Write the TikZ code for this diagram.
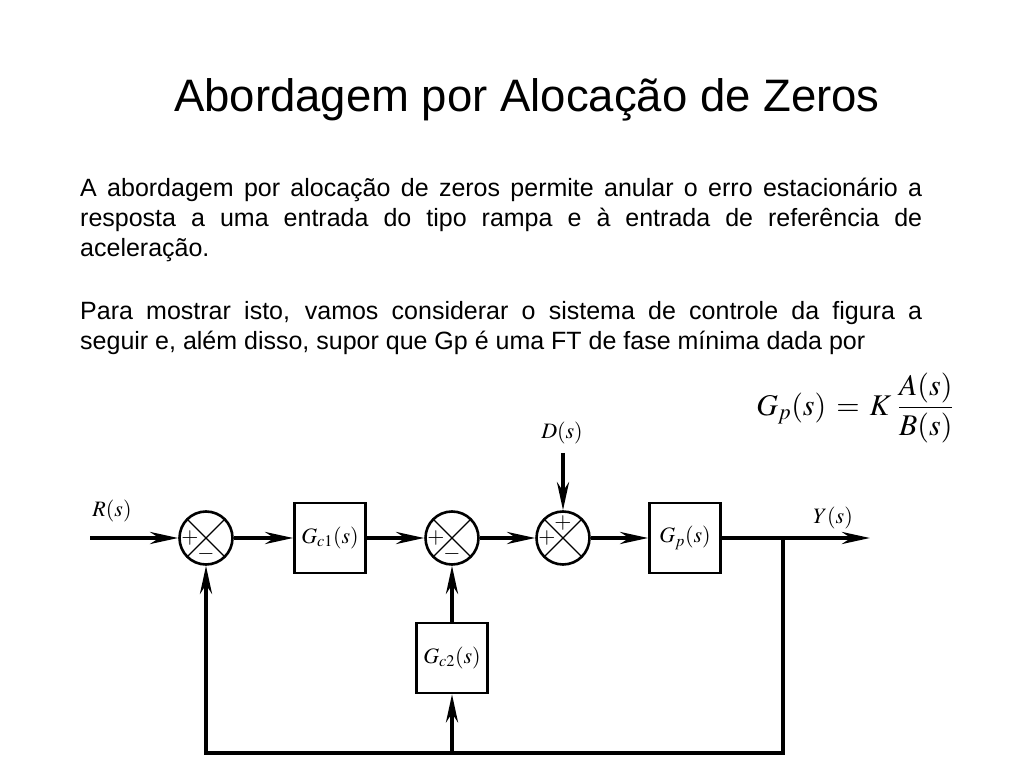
\documentclass[tikz,border=0pt]{standalone}
\usepackage{mathptmx}
\usepackage[no-math]{fontspec}
\setmainfont{Liberation Sans}
\usepackage{tikz}
\usetikzlibrary{positioning,arrows.meta}
\newcommand{\gcone}{G_{c1}(s)}
\newcommand{\gctwo}{G_{c2}(s)}
\newcommand{\gplant}{G_{p}(s)}
\tikzset{sumnode/.style={shape=circle, draw=black, line width=2.6pt, minimum size=53pt, inner sep=0pt, path picture={\draw[line width=1.3pt] (path picture bounding box.north west) -- (path picture bounding box.south east) (path picture bounding box.north east) -- (path picture bounding box.south west);}}}
\tikzset{blocknode/.style={shape=rectangle, draw=black, line width=2.6pt, minimum width=71pt, minimum height=70pt, inner sep=0pt, font=\fontsize{22}{26}\selectfont}}
\tikzset{signnode/.style={inner sep=0pt, font=\fontsize{22}{22}\selectfont}}
\tikzset{labnode/.style={inner sep=0pt, font=\fontsize{22}{26}\selectfont}}
\tikzset{sigline/.style={line width=4pt, -{Stealth[length=28pt,width=12pt,inset=9pt]}}}
\tikzset{titlenode/.style={anchor=base, inner sep=0pt, font=\fontsize{45.5}{54}\selectfont}}
\tikzset{bodytext/.style={anchor=north west, inner sep=0pt, text width=842pt, align=justify, font=\fontsize{25}{30}\selectfont}}

\begin{document}
\begin{tikzpicture}[x=1pt,y=1pt]
\useasboundingbox (0,0) rectangle (1024,768);
%Text
\node[titlenode] (title) at (527,656) {Abordagem por Alocação de Zeros};
\node[bodytext] (para1) at (80,590) {A abordagem por alocação de zeros permite anular o erro estacionário a\linebreak resposta a uma entrada do tipo rampa e à entrada de referência de\linebreak aceleração.};
\node[bodytext] (para2) at (80,467) {Para mostrar isto, vamos considerar o sistema de controle da figura a\linebreak seguir e, além disso, supor que Gp é uma FT de fase mínima dada por};
\node[labnode, font=\fontsize{30}{36}\selectfont] (gpformula) at (855,360) {$\displaystyle G_p(s) \,=\, K\;\frac{A(s)}{B(s)}$};
%Nodes
\node[sumnode]   (sum1)                                   at (206,230) {};
\node[blocknode] (gc1)  [on grid, right=124pt of sum1]    {$\gcone$};
\node[sumnode]   (sum2) [on grid, right=122pt of gc1]     {};
\node[sumnode]   (sum3) [on grid, right=111pt of sum2]    {};
\node[blocknode] (gp)   [on grid, right=122pt of sum3]    {$\gplant$};
\node[blocknode] (gc2)  [on grid, below=120pt of sum2]    {$\gctwo$};
%Signs
\node[signnode] (s1plus)  at ([xshift=-16pt]sum1.center) {$+$};
\node[signnode] (s1minus) at ([yshift=-16pt]sum1.center) {$-$};
\node[signnode] (s2plus)  at ([xshift=-16pt]sum2.center) {$+$};
\node[signnode] (s2minus) at ([yshift=-16pt]sum2.center) {$-$};
\node[signnode] (s3plus)  at ([xshift=-16pt]sum3.center) {$+$};
\node[signnode] (s3top)   at ([yshift=15pt]sum3.center)  {$+$};
%Labels
\node[labnode] (rlabel) at (112,257) {$R(s)$};
\node[labnode] (dlabel) at (562,335) {$D(s)$};
\node[labnode] (ylabel) at (833,250) {$Y(s)$};
\coordinate (in)     at (90,230);
\coordinate (din)    at (563,315);
\coordinate (out)    at (870,230);
\coordinate (branch) at (783,230);
\coordinate (fbk)    at (206,15);
%Lines
\draw[sigline] (in) -- (sum1);
\draw[sigline] (sum1) -- (gc1);
\draw[sigline] (gc1) -- (sum2);
\draw[sigline] (sum2) -- (sum3);
\draw[sigline] (sum3) -- (gp);
\draw[sigline] (gp) -- (out);
\draw[sigline] (din) -- (sum3);
\draw[sigline] (branch) |- (fbk) -- (sum1);
\draw[sigline] (gc2 |- fbk) -- (gc2);
\draw[sigline] (gc2) -- (sum2);
\end{tikzpicture}
\end{document}
